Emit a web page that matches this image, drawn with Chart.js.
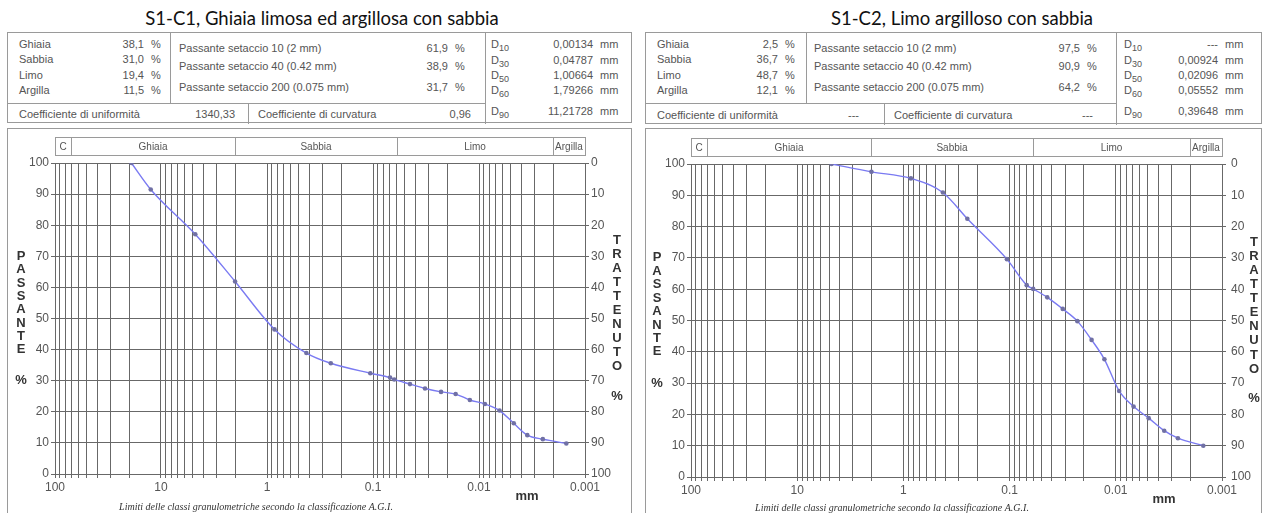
<!DOCTYPE html>
<html lang="it">
<head>
<meta charset="utf-8">
<title>Curve granulometriche S1-C1 / S1-C2</title>
<script src="https://cdn.jsdelivr.net/npm/chart.js@4.4.1/dist/chart.umd.min.js"></script>
<style>
  html, body { margin: 0; padding: 0; background: #fff; }
  body { position: relative; width: 1266px; height: 513px; overflow: hidden;
         font-family: "Liberation Sans", Arial, sans-serif; }
  .title { position: absolute; top: 8px; font-family: Lato, "Open Sans", sans-serif;
           font-size: 18.5px; line-height: 20px; color: #111; white-space: nowrap;
           transform: translateX(-50%); }
  .box { position: absolute; box-sizing: border-box; border: 1px solid #9a9a9a; background: #fff; }
  .ln { position: absolute; background: #9a9a9a; }
  .t { position: absolute; font-size: 11px; line-height: 13px; color: #555; white-space: nowrap; }
  .r { transform: translateX(-100%); }
  .sb { font-size: 9px; position: relative; top: 3px; }
  canvas { position: absolute; }
</style>
</head>
<body>
<script>
// ---- A.G.I. grain-size classes (limits in mm) ----
const classLimits = [100, 70, 2, 0.06, 0.002, 0.001];
const classNames = ['C', 'Ghiaia', 'Sabbia', 'Limo', 'Argilla'];

// ---- labelled decades on the diameter axis ----
const decadeValues = [100, 10, 1, 0.1, 0.01, 0.001];
const decadeLabels = ['100', '10', '1', '0.1', '0.01', '0.001'];

// ---- S1-C1 grading curve: diameter (mm) / passing (%) ----
const diamS1C1 = [19, 12.5, 4.75, 2, 0.85, 0.425, 0.25, 0.106, 0.069, 0.063, 0.0448, 0.0323,
                  0.0228, 0.0166, 0.0122, 0.0088, 0.0064, 0.0047, 0.0035, 0.0025, 0.0015];
const passS1C1 = [100, 91.5, 77.1, 61.9, 46.5, 38.9, 35.6, 32.4, 31.0, 30.4, 28.9, 27.5,
                  26.4, 25.7, 23.8, 22.5, 20.4, 16.3, 12.5, 11.2, 9.8];

// ---- S1-C2 grading curve ----
const diamS1C2 = [4.75, 2, 0.85, 0.425, 0.25, 0.106, 0.069, 0.060, 0.0442, 0.0316, 0.023,
                  0.0169, 0.0128, 0.0093, 0.0068, 0.0049, 0.0035, 0.0026, 0.0015];
const passS1C2 = [100, 97.5, 95.4, 90.9, 82.5, 69.6, 61.3, 60.1, 57.4, 53.7, 49.8,
                  43.8, 37.6, 27.5, 22.5, 18.8, 14.8, 12.4, 10.0];

// ---- summary tables ----
const fractionLabels = ['Ghiaia', 'Sabbia', 'Limo', 'Argilla'];
const fractionsS1C1 = ['38,1', '31,0', '19,4', '11,5'];
const fractionsS1C2 = ['2,5', '36,7', '48,7', '12,1'];
const sieveLabels = ['Passante setaccio 10 (2 mm)', 'Passante setaccio 40 (0.42 mm)',
                     'Passante setaccio 200 (0.075 mm)'];
const sievesS1C1 = ['61,9', '38,9', '31,7'];
const sievesS1C2 = ['97,5', '90,9', '64,2'];
const dIndices = ['10', '30', '50', '60', '90'];
const dS1C1 = ['0,00134', '0,04787', '1,00664', '1,79266', '11,21728'];
const dS1C2 = ['---', '0,00924', '0,02096', '0,05552', '0,39648'];
const coeffS1C1 = ['1340,33', '0,96'];   // uniformità, curvatura
const coeffS1C2 = ['---', '---'];

const titles = ['S1-C1, Ghiaia limosa ed argillosa con sabbia', 'S1-C2, Limo argilloso con sabbia'];

// ---------------------------------------------------------------
function el(tag, cls, parent) {
  const e = document.createElement(tag);
  if (cls) e.className = cls;
  (parent || document.body).appendChild(e);
  return e;
}
function place(e, x, y, w, h) {
  e.style.left = x + 'px'; e.style.top = y + 'px';
  if (w != null) e.style.width = w + 'px';
  if (h != null) e.style.height = h + 'px';
}
function txt(parent, html, x, y, right) {
  const s = el('div', 't' + (right ? ' r' : ''), parent);
  s.innerHTML = html;
  place(s, x, y - 6.5);
  return s;
}

function buildTable(box, L, fr, sv, dv, co) {
  const b = el('div', 'box');
  place(b, box.x, box.y, box.w, box.h);
  place(el('div', 'ln', b), L.div1, 0, 1, L.hDivY);
  place(el('div', 'ln', b), L.divD, 0, 1, box.h);
  place(el('div', 'ln', b), 0, L.hDivY, L.divD, 1);
  place(el('div', 'ln', b), L.divBottom, L.hDivY, 1, box.h - L.hDivY);
  fractionLabels.forEach((lab, i) => {
    txt(b, lab, L.fracX, L.rowsY[i]);
    txt(b, fr[i], L.fracValR, L.rowsY[i], true);
    txt(b, '%', L.fracValR + 7, L.rowsY[i]);
  });
  sieveLabels.forEach((lab, i) => {
    txt(b, lab, L.sieveX, L.sieveY[i]);
    txt(b, sv[i], L.sieveValR, L.sieveY[i], true);
    txt(b, '%', L.sieveValR + 7, L.sieveY[i]);
  });
  dIndices.forEach((k, i) => {
    txt(b, 'D<span class="sb">' + k + '</span>', L.dX, L.dY[i]);
    txt(b, dv[i], L.dValR, L.dY[i], true);
    txt(b, 'mm', L.dValR + 7, L.dY[i]);
  });
  txt(b, 'Coefficiente di uniformità', L.fracX, L.bottomY);
  txt(b, co[0], L.cuValR, L.bottomY, true);
  txt(b, 'Coefficiente di curvatura', L.ccLabelX, L.bottomY);
  txt(b, co[1], L.ccValR, L.bottomY, true);
}

// vertical grid of a log paper: 1..9 x 10^e
function logGridTicks() {
  const out = [];
  for (let e = -3; e <= 1; e++)
    for (let k = 1; k <= 9; k++) out.push(+(k * Math.pow(10, e)).toPrecision(4));
  out.push(100);
  return out.map(v => ({ value: v }));
}

const GRID = '#686868';
const TICK_FONT = { family: '"Liberation Sans", Arial, sans-serif', size: 12 };

// class band, stacked axis titles, unit and footnote
const panelDecor = {
  id: 'panelDecor',
  afterDraw(chart, args, o) {
    const { ctx, chartArea: a, scales: { x, y } } = chart;
    ctx.save();
    // classification band above the plot
    const top = a.top - 26, h = 18;
    ctx.strokeStyle = '#9a9a9a';
    ctx.lineWidth = 1;
    ctx.font = '10px "Liberation Sans", Arial, sans-serif';
    ctx.fillStyle = '#555';
    ctx.textAlign = 'center';
    ctx.textBaseline = 'middle';
    for (let i = 0; i < classNames.length; i++) {
      const x1 = Math.round(x.getPixelForValue(classLimits[i]));
      const x2 = Math.round(x.getPixelForValue(classLimits[i + 1]));
      ctx.strokeRect(x1 + 0.5, top + 0.5, x2 - x1, h);
      ctx.fillText(classNames[i], (x1 + x2) / 2, top + h / 2 + 1);
    }
    // stacked axis titles
    ctx.font = 'bold 13px "Liberation Sans", Arial, sans-serif';
    ctx.fillStyle = '#333';
    const lx = a.left - 34, rx = a.right + 32;
    const left = 'PASSANTE', right = 'TRATTENUTO';
    for (let i = 0; i < left.length; i++)
      ctx.fillText(left[i], lx, y.getPixelForValue(70 - i * 30 / 7));
    ctx.fillText('%', lx, y.getPixelForValue(30));
    for (let i = 0; i < right.length; i++)
      ctx.fillText(right[i], rx, y.getPixelForValue(75 - i * 4.5));
    ctx.fillText('%', rx, y.getPixelForValue(25));
    // unit
    ctx.fillText('mm', a.right - 58, a.bottom + 22);
    // footnote
    ctx.font = 'italic 10px "Liberation Serif", "Times New Roman", serif';
    ctx.fillText('Limiti delle classi granulometriche secondo la classificazione A.G.I.',
                 a.left + 201, a.bottom + o.noteDy);
    ctx.restore();
  }
};

function buildChart(frame, P, diam, pass) {
  const box = el('div', 'box');
  place(box, frame.x, frame.y, frame.w, 400);
  const cv = el('canvas');
  cv.width = frame.w; cv.height = frame.h;
  place(cv, frame.x, frame.y, frame.w, frame.h);

  new Chart(cv.getContext('2d'), {
    type: 'line',
    data: {
      datasets: [{
        data: diam.map((d, i) => ({ x: d, y: pass[i] })),
        borderColor: 'rgb(122,122,242)',
        borderWidth: 1.4,
        cubicInterpolationMode: 'monotone',
        pointRadius: 2.3,
        pointBorderWidth: 0,
        pointBackgroundColor: 'rgb(112,112,165)',
        fill: false
      }]
    },
    options: {
      responsive: false,
      animation: false,
      devicePixelRatio: 1,
      layout: { padding: { top: P.top, left: 0, right: 0, bottom: 0 } },
      plugins: { legend: { display: false }, tooltip: { enabled: false },
                 panelDecor: { noteDy: P.noteDy } },
      scales: {
        x: {
          type: 'logarithmic', reverse: true, min: 0.001, max: 100,
          afterBuildTicks: s => { s.ticks = logGridTicks(); },
          afterFit: s => { s.height = frame.h - P.bottom; },
          ticks: {
            autoSkip: false, maxRotation: 0, minRotation: 0, padding: 2,
            color: '#555', font: TICK_FONT,
            callback: v => {
              const k = decadeValues.findIndex(d => Math.abs(d - v) / d < 1e-6);
              return k < 0 ? '' : decadeLabels[k];
            }
          },
          grid: { color: GRID, lineWidth: 1, tickLength: 4 },
          border: { color: GRID }
        },
        y: {
          type: 'linear', position: 'left', min: 0, max: 100,
          afterFit: s => { s.width = P.left; },
          ticks: { stepSize: 5, padding: 2, color: '#555', font: TICK_FONT,
                   callback: v => (v % 10 === 0 ? String(v) : '') },
          grid: { color: GRID, lineWidth: 1, tickLength: 4 },
          border: { color: GRID }
        },
        y2: {
          type: 'linear', position: 'right', min: 0, max: 100, reverse: true,
          afterFit: s => { s.width = frame.w - P.right; },
          ticks: { stepSize: 10, padding: P.rPad, color: '#555', font: TICK_FONT },
          grid: { drawOnChartArea: false, color: GRID, tickLength: 4 },
          border: { color: GRID }
        }
      }
    },
    plugins: [panelDecor]
  });
}

// ---- page layout ----
const t1 = el('div', 'title'); t1.textContent = titles[0]; t1.style.left = '322px';
const t2 = el('div', 'title'); t2.textContent = titles[1]; t2.style.left = '962px';

buildTable({ x: 7, y: 32, w: 625, h: 91 }, {
  fracX: 11, fracValR: 136, rowsY: [11, 26, 42, 57],
  div1: 162, divD: 477, divBottom: 240, hDivY: 70,
  sieveX: 171, sieveValR: 440, sieveY: [15, 33, 54],
  dX: 483, dValR: 585, dY: [11, 27, 42, 57, 78],
  ccLabelX: 250, cuValR: 227, ccValR: 463, bottomY: 81
}, fractionsS1C1, sievesS1C1, dS1C1, coeffS1C1);

buildTable({ x: 645, y: 32, w: 617, h: 92 }, {
  fracX: 11, fracValR: 132, rowsY: [11, 26, 42, 57],
  div1: 160, divD: 470, divBottom: 238, hDivY: 70,
  sieveX: 168, sieveValR: 434, sieveY: [15, 33, 54],
  dX: 478, dValR: 572, dY: [11, 27, 42, 57, 78],
  ccLabelX: 248, cuValR: 213, ccValR: 447, bottomY: 82
}, fractionsS1C2, sievesS1C2, dS1C2, coeffS1C2);

buildChart({ x: 7, y: 128, w: 625, h: 385 },
           { left: 48, right: 578, top: 35, bottom: 346, rPad: 2, noteDy: 33 },
           diamS1C1, passS1C1);
buildChart({ x: 645, y: 128, w: 617, h: 385 },
           { left: 46, right: 577, top: 36, bottom: 349, rPad: 5, noteDy: 31 },
           diamS1C2, passS1C2);
</script>
</body>
</html>
